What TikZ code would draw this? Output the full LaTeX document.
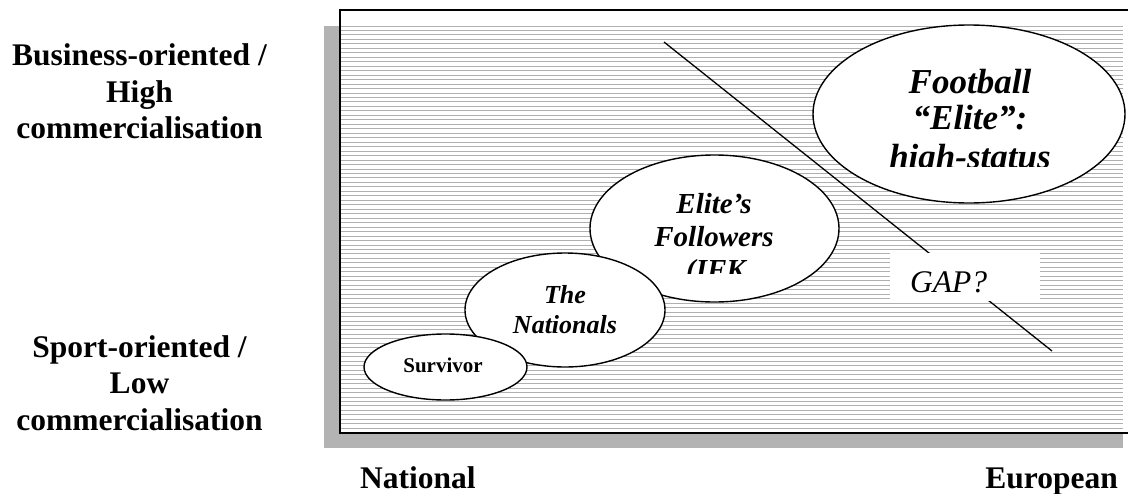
\documentclass[tikz,border=0pt]{standalone}
\usepackage{fontspec}
\setmainfont{Liberation Serif}
\usetikzlibrary{shapes.geometric}
\definecolor{shadowgray}{HTML}{B3B3B3}
\definecolor{hatchgray}{HTML}{B0B0B0}
\tikzset{
  ell/.style={ellipse, draw=black, line width=1.4pt, fill=white, inner sep=0pt},
  hatch/.style={draw=hatchgray, line width=1pt},
  axislabel/.style={font=\fontsize{31.5}{36}\selectfont\bfseries, anchor=base, inner sep=0pt},
  fbtext/.style={font=\fontsize{35}{36}\selectfont\bfseries\itshape, anchor=base, inner sep=0pt},
  eltext/.style={font=\fontsize{29}{33}\selectfont\bfseries\itshape, anchor=base, inner sep=0pt},
  natext/.style={font=\fontsize{26}{30}\selectfont\bfseries\itshape, anchor=base, inner sep=0pt},
}
\begin{document}
\begin{tikzpicture}[x=1pt,y=-1pt]
\useasboundingbox (0,0) rectangle (1128,493);
% shadow and framed hatched panel
\fill[shadowgray] (324,26) rectangle (1123,448);
\fill[white] (340,10) rectangle (1140,433);
\foreach \i in {0,...,90} {
  \draw[hatch] (341,26+\i*4.47) -- (1123,26+\i*4.47);
}
\draw[line width=2pt] (340,10) rectangle (1140,433);

% diagonal gap line with label
\coordinate (g1) at (664,42);
\coordinate (g2) at (1052,351);
\draw[line width=1.3pt] (g1) -- (g2);
\node[fill=white, minimum width=150pt, minimum height=48pt, inner sep=0pt] (gapbox) at (965,277) {};
\node[font=\fontsize{31.5}{36}\selectfont\itshape, anchor=base west, inner sep=0pt] (gap) at (910,292) {GAP?};

% ellipses
\node[ell, minimum width=312pt, minimum height=178pt] (elite) at (969,114) {};
\begin{scope}
  \clip (813,25) rectangle (1125,166);
  \node[fbtext] (fb1) at (970,93) {Football};
  \node[fbtext] (fb2) at (970,129) {“Elite”:};
  \node[fbtext] (fb3) at (970,168) {high-status};
\end{scope}

\node[ell, minimum width=249pt, minimum height=147pt] (follow) at (714.5,228.5) {};
\begin{scope}
  \clip (590,155) rectangle (839,273);
  \node[eltext] (ef1) at (714,213) {Elite’s};
  \node[eltext] (ef2) at (714,246) {Followers};
  \node[eltext] (ef3) at (716,279) {(IFK};
\end{scope}

\node[ell, minimum width=200pt, minimum height=114pt] (nationals) at (565,310) {};
\node[natext] (na1) at (565,303) {The};
\node[natext] (na2) at (565,333) {Nationals};

\node[ell, minimum width=163pt, minimum height=66pt] (survivor) at (445.5,367) {};
\node[font=\fontsize{21}{24}\selectfont\bfseries, anchor=base, inner sep=0pt] (sv) at (443,372) {Survivor};

% axis labels
\node[axislabel] (b1) at (139.5,65) {Business-oriented /};
\node[axislabel] (b2) at (139.5,102) {High};
\node[axislabel] (b3) at (139.5,138) {commercialisation};
\node[axislabel] (s1) at (139.5,357) {Sport-oriented /};
\node[axislabel] (s2) at (139.5,393) {Low};
\node[axislabel] (s3) at (139.5,430) {commercialisation};
\node[axislabel, anchor=base west] (nat) at (360,488) {National};
\node[axislabel, anchor=base east] (eur) at (1118,488) {European};
\end{tikzpicture}
\end{document}
